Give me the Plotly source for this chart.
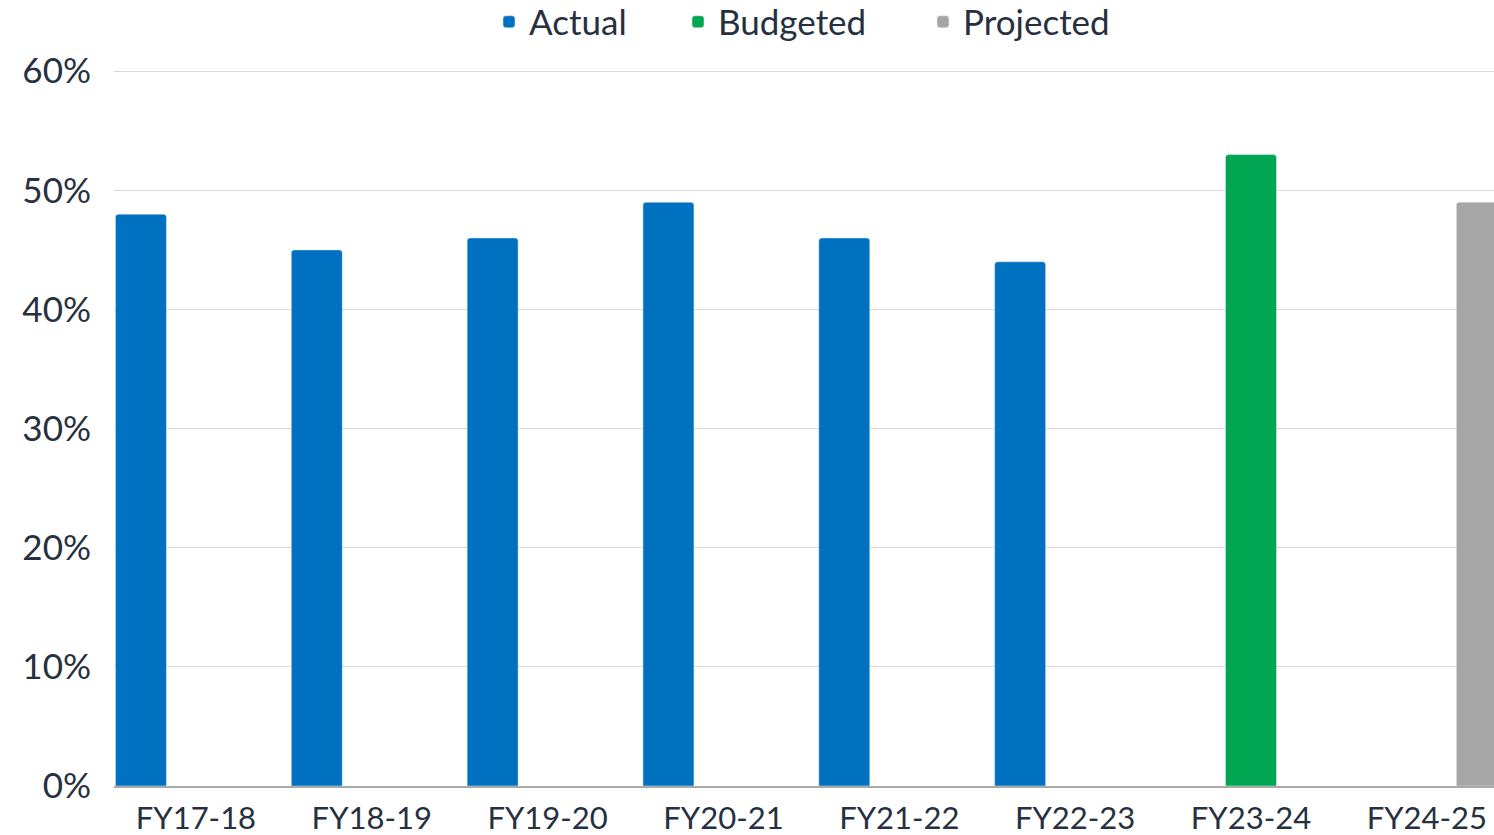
import plotly.graph_objects as go

categories = ["FY17-18", "FY18-19", "FY19-20", "FY20-21", "FY21-22", "FY22-23", "FY23-24", "FY24-25"]
actual = [48, 45, 46, 49, 46, 44, None, None]
budgeted = [None, None, None, None, None, None, 53, None]
projected = [None, None, None, None, None, None, None, 49]
y_ticks = [0, 10, 20, 30, 40, 50, 60]
y_tick_labels = ["0%", "10%", "20%", "30%", "40%", "50%", "60%"]

FONT = "Lato"
TEXT = "#27303f"

L, T, B, W, H = 114, 70, 49, 1494, 835
plot_w = W - L
plot_h = H - T - B


def legend_at(text_left_px):
    return dict(x=(text_left_px - 45 - L) / plot_w, xanchor="left",
                y=1 + (T - 22) / plot_h, yanchor="middle",
                font=dict(size=35, color=TEXT), bgcolor="rgba(0,0,0,0)")


fig = go.Figure()
fig.add_trace(go.Bar(name="Actual", x=categories, y=actual, legend="legend",
                     marker=dict(color="#0070C0", cornerradius=3)))
fig.add_trace(go.Bar(name="Budgeted", x=categories, y=budgeted, legend="legend2",
                     marker=dict(color="#00A651", cornerradius=3)))
fig.add_trace(go.Bar(name="Projected", x=categories, y=projected, legend="legend3",
                     marker=dict(color="#A6A6A6", cornerradius=3)))

fig.update_layout(
    width=W, height=H,
    margin=dict(l=L, r=0, t=T, b=B, autoexpand=False),
    paper_bgcolor="white", plot_bgcolor="white",
    barmode="group", bargap=0.0616, bargroupgap=0.073,
    font=dict(family=FONT, size=31, color=TEXT),
    legend=legend_at(534),
    legend2=legend_at(723),
    legend3=legend_at(968),
    showlegend=True,
)
fig.update_xaxes(
    type="category", range=[-0.466, 7.382],
    showline=True, linecolor="#a9a9a9", linewidth=1.5,
    showgrid=False, ticks="", tickfont=dict(size=31, color=TEXT),
    ticklabelstandoff=4,
)
fig.update_yaxes(
    range=[0, 60.1], tickvals=y_ticks, ticktext=y_tick_labels,
    showgrid=True, gridcolor="#d9d9d9", gridwidth=1,
    zeroline=False, showline=False, ticks="",
    ticklabelstandoff=22, tickfont=dict(size=35, color=TEXT),
)

fig.write_html("out.html", config={"displayModeBar": False},
               post_script="document.body.style.margin='0';document.body.style.overflow='hidden';")
